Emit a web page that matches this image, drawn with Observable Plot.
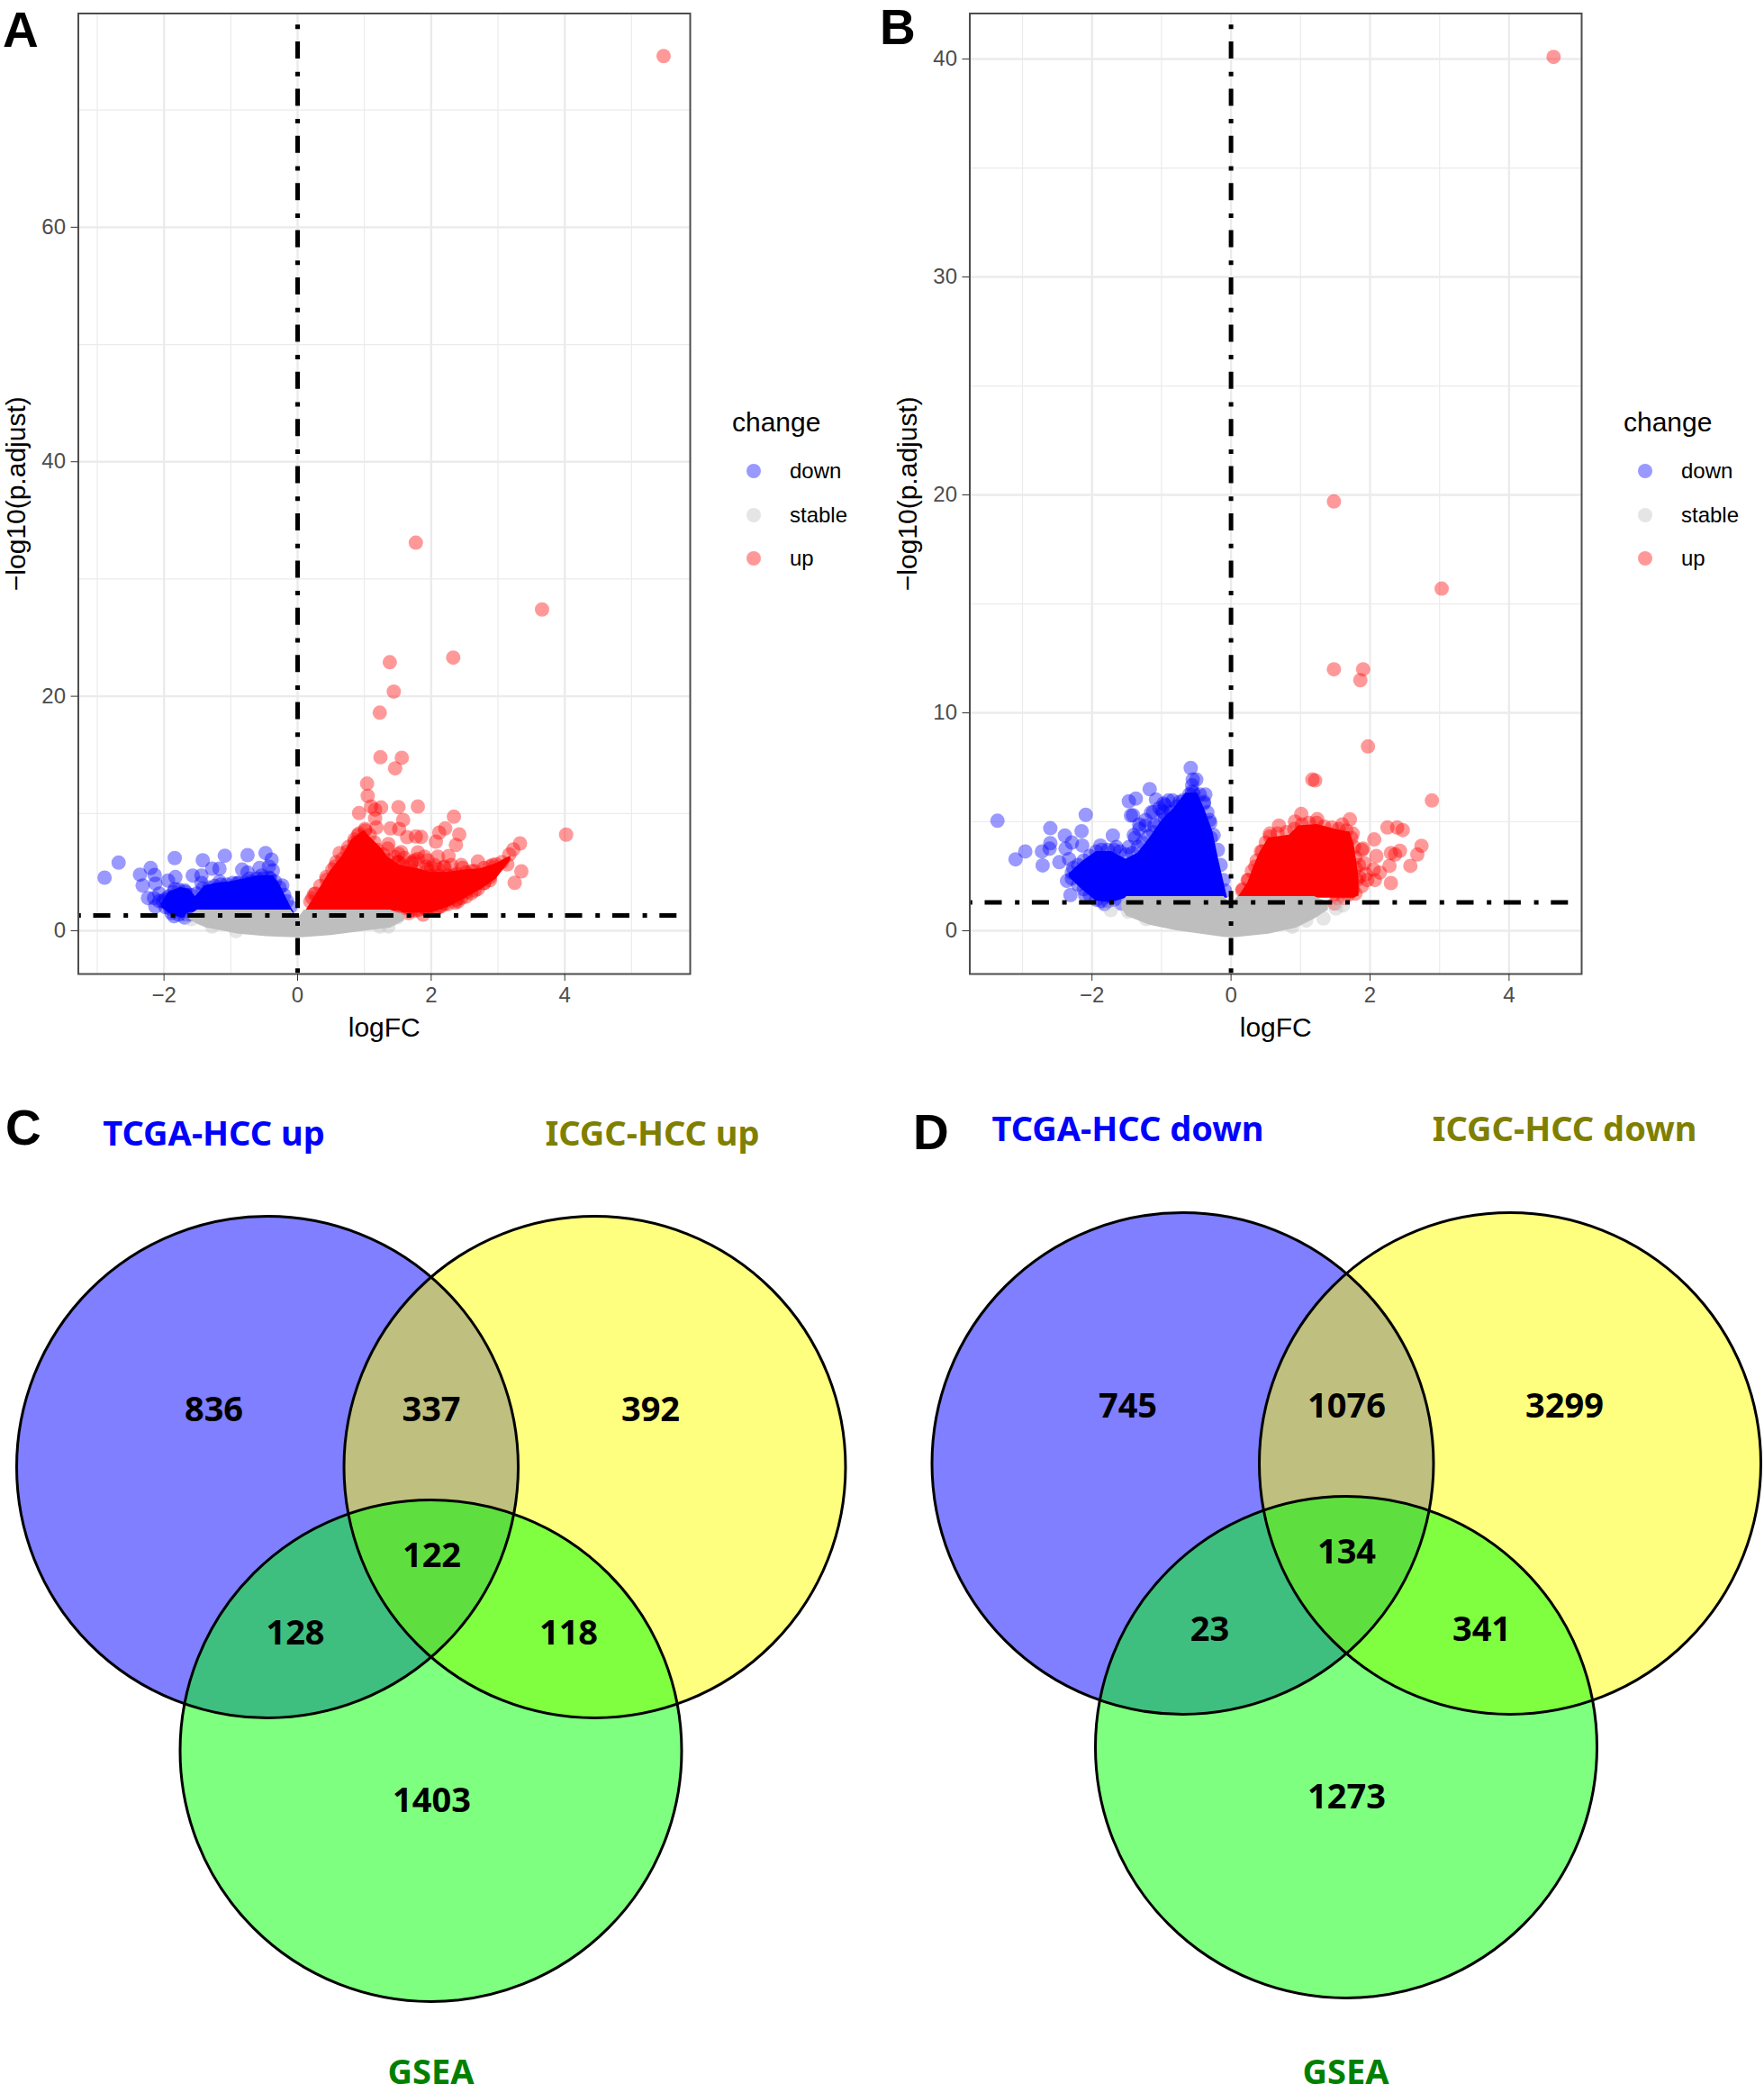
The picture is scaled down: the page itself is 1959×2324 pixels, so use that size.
<!DOCTYPE html>
<html><head><meta charset="utf-8">
<script src="https://cdn.jsdelivr.net/npm/d3@7"></script>
<script src="https://cdn.jsdelivr.net/npm/@observablehq/plot@0.6"></script>
<style>
html,body{margin:0;padding:0;background:#fff}
#page{position:relative;width:1959px;height:2324px;overflow:hidden;background:#fff;font-family:"Liberation Sans",Arial,sans-serif}
#page svg{position:absolute;background:transparent;overflow:visible}
.tag{position:absolute;font:700 55px/1 "Liberation Sans",Arial,sans-serif;color:#000}
.lg{position:absolute;color:#000;line-height:1;white-space:nowrap}
.lgd{position:absolute;width:16px;height:16px;border-radius:50%}
</style></head><body><div id="page"></div>
<script>
// ---------- Panel A values (logFC, -log10 p.adjust) ----------
const aDown=[[-2.89,4.53],[-2.68,5.81],[-2.36,4.79],[-2.20,5.35],[-2.14,4.76],[-2.32,3.86],[-2.13,4.02],[-2.24,2.79],[-2.15,2.79],[-2.13,2.07],[-2.07,3.17],[-1.94,4.28],[-1.83,4.58],[-1.84,6.2],[-1.57,4.71],[-1.44,4.71],[-1.42,6.01],[-1.28,5.3],[-1.17,5.3],[-1.09,6.4],[-0.75,6.45],[-0.48,6.63],[-0.39,6.07],[-0.83,5.22],[-0.75,4.97],[-0.57,5.35],[-0.43,5.48],[-0.37,5.15],[-0.23,3.86],[-1.84,3.56],[-1.98,2.69],[-1.91,1.92],[-1.66,1.38],[-1.85,1.25],[-1.68,3.30],[-1.44,4.07],[-1.17,4.2],[-0.90,4.07],[-0.72,4.45],[-0.54,4.71],[-0.41,4.45],
[-2.02,2.53],[-1.93,2.92],[-1.86,3.3],[-1.78,3.51],[-1.69,3.43],[-1.6,3.05],[-1.51,3.17],[-1.42,3.61],[-1.33,3.69],[-1.24,3.82],[-1.15,3.94],[-1.06,3.94],[-.97,4.07],[-.88,4.07],[-.79,4.07],[-.7,4.2],[-.61,4.45],[-.52,4.45],[-.43,4.53],[-.34,4.2],[-.27,3.69],[-.2,3.05],[-.16,2.53],[-.11,2.02],[-1.98,2.02],[-1.89,1.51],[-1.78,1.38],[-1.69,1.13],[-1.6,1.38],[-2.07,2.53]];
const aUp=[[5.48,74.6],[1.77,33.1],[3.66,27.4],[2.33,23.3],[1.38,22.9],[1.44,20.4],[1.23,18.6],[1.24,14.8],[1.56,14.75],[1.46,13.85],[1.04,12.55],[1.05,11.5],[0.92,10.04],[1.10,10.6],[1.16,10.34],[1.25,10.52],[1.51,10.55],[1.80,10.6],[2.34,9.73],[1.16,9.58],[1.58,9.45],[1.18,8.81],[1.39,8.73],[1.52,8.68],[2.21,8.73],[2.12,8.37],[2.42,8.22],[4.02,8.2],[1.64,7.99],[1.77,8.04],[1.85,8.0],[2.07,7.6],[2.37,7.32],[1.36,7.4],[3.33,7.45],[3.23,6.94],[3.17,6.5],[0.63,6.63],[1.51,6.55],[1.80,6.68],[1.90,6.32],[2.10,6.32],[2.26,6.37],[2.70,5.91],[3.35,5.07],[3.25,4.09],[2.97,5.66],[3.14,5.66],[2.88,5.48],[2.47,5.35],[2.61,5.09],[2.19,5.4],[2.00,5.35],[1.90,4.53],[0.27,3.17],[0.19,2.48],[1.88,1.38],[2.12,2.02],[2.36,2.4],[2.70,3.56],[2.88,4.32],[0.85,7.53],[1.01,8.68],[0.90,8.14],[0.25,3.13],[0.43,4.33],[0.56,5.48],[0.74,6.76],[1.50,5.86],[1.70,5.74],[1.94,5.22],[2.34,4.71],[1.94,1.77],[1.70,1.77],[2.30,2.79],[2.52,3.3],[2.79,4.07],
[.22,2.79],[.34,3.82],[.43,4.58],[.52,5.22],[.58,5.86],[.67,6.12],[.76,7.14],[.85,7.78],[.92,8.29],[1.01,8.55],[1.08,8.17],[1.15,7.53],[1.19,6.89],[1.28,6.5],[1.35,5.99],[1.44,5.22],[1.57,4.84],[1.71,5.09],[1.84,4.97],[1.98,4.71],[2.11,4.71],[2.25,4.71],[2.38,4.84],[2.52,4.97],[2.65,5.09],[2.79,5.35],[2.92,5.61],[3.06,5.86],[2.88,4.58],[2.79,4.07],[2.65,3.43],[2.52,2.92],[2.38,2.66],[2.25,2.28],[2.07,1.89],[1.93,1.77],[1.80,1.77],[1.66,1.51],[1.53,1.77],[1.51,5.86],[1.57,5.61],[1.71,5.86],[1.80,6.12],[1.93,5.48],[2.11,5.22],[2.20,5.48],
[1.6,6.2],[1.75,6.0],[1.95,6.0],[2.05,5.6],[2.3,5.6],[1.55,6.7],[2.45,5.6],[2.0,2.0],[2.2,2.3],[2.45,2.8],[2.6,3.2],[1.75,1.7],[1.35,7.0],[1.45,6.3],[2.15,2.1],[2.4,2.5]];
const aStable=[[-1.59,1.0],[-1.28,0.36],[-0.92,-0.03],[1.36,0.36],[1.49,1.13],[1.23,0.36]];
const aDownCoreX=[-2.04,-1.93,-1.75,-1.62,-1.53,-1.39,-1.21,-0.99,-0.77,-0.59,-0.37,-0.28,-0.19,-0.10,-0.05];
const aDownCoreTop=[2.28,3.30,3.69,3.56,2.92,3.82,4.07,4.2,4.45,4.71,4.71,4.07,3.05,2.02,1.53];
const aDownCoreBase=[2.0,1.5,1.1,1.1,1.3,1.5,1.5,1.5,1.5,1.5,1.5,1.5,1.5,1.5,1.5];
const aUpCoreX=[0.13,0.27,0.49,0.67,0.81,0.99,1.12,1.26,1.35,1.53,1.80,1.98,2.25,2.52,2.74,2.97,3.19];
const aUpCoreTop=[1.77,3.05,5.09,6.37,7.78,8.55,7.8,7.0,6.3,5.6,5.3,5.0,5.0,5.2,5.3,5.73,6.37];
const aUpCoreBase=[1.5,1.5,1.5,1.5,1.5,1.5,1.5,1.5,1.5,1.5,1.51,1.51,2.0,2.8,3.5,4.4,5.99];
const aStableCoreX=[-1.62,-1.5,-1.36,-0.88,-0.46,-0.1,0,0.1,0.5,1.05,1.39,1.6];
const aStableCoreTop=[1.3,1.77,1.77,1.77,1.77,1.77,1.0,1.77,1.77,1.77,1.77,1.3];
const aStableCoreBase=[1.0,0.55,0.23,-0.28,-0.49,-0.58,-0.59,-0.58,-0.41,0,0.23,0.87];

// ---------- Panel B values ----------
const bDown=[[-3.36,5.05],[-3.10,3.28],[-2.96,3.64],[-2.72,3.64],[-2.71,3.0],[-2.60,4.71],[-2.60,4.02],[-2.61,3.77],[-2.47,3.15],[-2.39,4.37],[-2.15,4.57],[-2.09,5.32],[-2.31,1.64],[-2.36,2.29],[-2.29,4.05],[-2.14,3.91],[-2.38,3.77],[-2.33,3.29],[-2.29,2.67],[-2.10,1.64],[-1.88,3.91],[-1.70,4.37],[-1.65,3.84],[-1.47,3.84],[-1.38,4.26],[-1.47,5.94],[-1.37,6.07],[-1.17,6.5],[-1.44,5.29],[-1.41,5.3],[-1.15,5.43],[-1.32,4.88],[-1.23,4.83],[-1.10,4.83],[-1.08,6.02],[-0.97,5.84],[-0.90,5.98],[-0.97,5.43],[-0.74,5.91],[-0.58,7.47],[-0.55,6.94],[-0.50,6.94],[-0.56,6.67],[-0.56,6.39],[-0.37,6.25],[-0.39,5.91],[-0.31,5.08],[-0.29,4.26],[-1.82,1.23],[-1.58,1.25],[-2.03,2.05],
[-2.27,2.88],[-2.2,3.02],[-2.12,3.22],[-2.03,3.43],[-1.94,3.64],[-1.86,3.71],[-1.77,3.71],[-1.68,3.71],[-1.6,3.64],[-1.51,3.5],[-1.42,3.57],[-1.34,3.84],[-1.27,4.05],[-1.19,4.33],[-1.12,4.53],[-1.03,4.88],[-.95,5.15],[-.86,5.43],[-.78,5.7],[-.69,5.98],[-.6,6.25],[-.54,6.32],[-.45,6.25],[-.39,5.84],[-.34,5.43],[-.3,4.95],[-.25,4.39],[-.19,3.71],[-.15,3.02],[-.11,2.33],[-.09,1.85],[-2.29,2.4],[-2.2,2.12],[-2.12,1.91],[-2.03,1.64],[-1.94,1.43],[-1.86,1.36],[-1.77,1.36],[-1.68,1.43],
[-1.23,5.08],[-1.12,5.43],[-1.03,5.63],[-.95,5.77],[-.84,5.98],[-.99,5.5],[-1.32,4.67],[-1.40,4.39]];
const bUp=[[4.64,40.1],[1.48,19.7],[3.03,15.7],[1.48,12.0],[1.90,12.0],[1.86,11.5],[1.97,8.46],[2.89,5.98],[1.17,6.94],[1.21,6.90],[1.01,5.36],[0.69,4.83],[0.92,5.01],[1.24,5.12],[1.71,5.11],[1.60,4.88],[2.25,4.74],[2.39,4.74],[2.47,4.62],[2.06,4.19],[2.74,3.90],[2.68,3.50],[2.43,3.67],[2.30,3.57],[2.36,3.5],[2.58,2.98],[2.28,2.98],[2.30,2.19],[2.07,2.33],[2.14,2.67],[2.05,2.81],[2.09,3.43],[1.90,3.77],[1.92,3.09],[1.96,2.33],[1.84,2.47],[1.75,4.46],[0.56,4.46],[0.45,3.64],[0.35,2.95],[0.25,2.33],[0.16,1.85],[1.79,1.71],[1.62,1.5],[1.49,1.25],
[.17,1.91],[.24,2.33],[.3,2.74],[.37,3.22],[.43,3.64],[.5,4.05],[.56,4.33],[.67,4.46],[.8,4.53],[.91,4.67],[1.02,4.88],[1.12,4.95],[1.23,4.95],[1.34,4.78],[1.45,4.74],[1.55,4.67],[1.66,4.6],[1.73,4.26],[1.77,3.84],[1.79,3.36],[1.79,2.88],[1.81,2.33],[1.75,1.91],[1.68,1.64],[1.53,1.5],[1.88,3.71],[1.84,3.02],[1.94,2.6],[1.88,2.05]];
const bStable=[[-1.73,0.95],[-1.48,0.88],[-1.22,0.54],[1.33,0.57],[1.51,1.02],[1.61,1.16],[1.08,0.47],[0.88,0.19]];
const bDownCoreX=[-2.33,-2.15,-1.94,-1.72,-1.51,-1.34,-1.17,-0.99,-0.82,-0.65,-0.48,-0.37,-0.26,-0.18,-0.09,-0.05];
const bDownCoreTop=[2.60,3.15,3.64,3.64,3.29,3.57,4.26,5.08,5.63,6.32,6.32,5.50,4.53,3.29,2.05,1.50];
const bDownCoreBase=[2.47,1.91,1.36,1.29,1.5,1.5,1.5,1.5,1.5,1.5,1.5,1.5,1.5,1.5,1.5,1.5];
const bUpCoreX=[0.11,0.24,0.32,0.41,0.54,0.84,0.97,1.24,1.49,1.71,1.77,1.84];
const bUpCoreTop=[1.57,2.19,2.88,3.57,4.26,4.39,4.81,4.88,4.67,4.53,3.98,2.47];
const bUpCoreBase=[1.5,1.5,1.5,1.5,1.5,1.5,1.5,1.5,1.5,1.5,1.5,1.6];
const bStableCoreX=[-1.57,-1.5,-1.17,-0.78,-0.1,0,0.1,0.54,0.94,1.20,1.40];
const bStableCoreTop=[1.3,1.57,1.57,1.57,1.57,1.2,1.57,1.57,1.57,1.57,1.3];
const bStableCoreBase=[1.02,0.67,0.26,0,-0.3,-0.32,-0.3,-0.15,0.12,0.54,0.95];

const threshold=1.301;
const xMajor=[-2,0,2,4];
const aXMinor=[-3,-1,1,3,5], bXMinor=[-3,-1,1,3];
const aYMajor=[0,20,40,60], aYMinor=[10,30,50,70];
const bYMajor=[0,10,20,30,40], bYMinor=[5,15,25,35];
const legendLabels=["down","stable","up"];
const colDown="#0000ff", colStable="#bebebe", colUp="#ff0000";

// ---------- Venn values ----------
const vennTitlesC=["TCGA-HCC up","ICGC-HCC up","GSEA"];
const vennTitlesD=["TCGA-HCC down","ICGC-HCC down","GSEA"];
const vennFills=["#0000ff","#ffff00","#00ff00"];
const vennTitleColors=["#0000ff","#7f7f00","#008000"];
const vennCx=[296.5,660,478, 1313,1676.5,1494.5];
const vennCy=[1628.5,1628.5,1943.5, 1624.5,1624.5,1939.5];
const vennCounts=[836,337,392,128,122,118,1403, 745,1076,3299,23,134,341,1273];
const vennCountX=[237,478.5,722,327.5,479,631,479, 1252,1495,1737,1343,1495,1645,1495];
const vennCountY=[1565.5,1565.5,1565.5,1813.5,1727.5,1813.5,1999.5, 1561.5,1561.5,1561.5,1809.5,1723.5,1809.5,1995.5];
const vennTitleX=[237,724,478, 1252,1737,1494];
const vennTitleY=[1259,1259,2301, 1254,1254,2301];

const page=document.getElementById("page");
const fmt=d=>d<0?"\u2212"+(-d):String(d);

function volcano(o){
  const dot=(data,fill)=>Plot.dot(data,{x:d=>d[0],y:d=>d[1],r:8,fill,fillOpacity:0.4});
  const core=(x,top,base,fill)=>Plot.areaY(x,{x,y1:base,y2:top,fill});
  const svg=Plot.plot({
    width:960,height:1170,marginLeft:86.5,marginRight:194,marginTop:14.5,marginBottom:89,
    style:{fontFamily:'"Liberation Sans",Arial,sans-serif',background:"transparent"},
    x:{domain:o.xd},y:{domain:o.yd},
    marks:[
      Plot.gridX(o.xMinor,{stroke:"#ebebeb",strokeOpacity:1,strokeWidth:1.2}),
      Plot.gridY(o.yMinor,{stroke:"#ebebeb",strokeOpacity:1,strokeWidth:1.2}),
      Plot.gridX(xMajor,{stroke:"#ebebeb",strokeOpacity:1,strokeWidth:2.4}),
      Plot.gridY(o.yMajor,{stroke:"#ebebeb",strokeOpacity:1,strokeWidth:2.4}),
      core(o.dc[0],o.dc[1],o.dc[2],colDown),
      core(o.uc[0],o.uc[1],o.uc[2],colUp),
      dot(o.down,colDown),dot(o.up,colUp),
      dot(o.stable,colStable),
      core(o.sc[0],o.sc[1],o.sc[2],colStable),
      Plot.ruleY([threshold],{stroke:"#000",strokeWidth:5,strokeDasharray:"5 13.7 19 14.7",strokeDashoffset:1.7}),
      Plot.ruleX([0],{stroke:"#000",strokeWidth:5,strokeDasharray:"5 13.7 19 14.7",strokeDashoffset:39.6}),
      Plot.frame({stroke:"#4d4d4d",strokeWidth:2}),
      Plot.axisX({ticks:xMajor,tickFormat:fmt,tickSize:8,tickPadding:6,fontSize:24,stroke:"#333",fill:"#4d4d4d",label:null}),
      Plot.axisY({ticks:o.yMajor,tickFormat:fmt,tickSize:8,tickPadding:6,fontSize:24,stroke:"#333",fill:"#4d4d4d",label:null}),
      Plot.text(["logFC"],{frameAnchor:"bottom",dy:69,fontSize:30,fill:"#000"}),
      Plot.text(["\u2212log10(p.adjust)"],{frameAnchor:"left",textAnchor:"middle",dx:-69,rotate:-90,fontSize:30,fill:"#000"})
    ]
  });
  svg.style.left=o.left+"px";svg.style.top="0px";
  page.appendChild(svg);
  const add=(cls,css,txt)=>{const e=document.createElement("div");e.className=cls;e.style.cssText=css;if(txt)e.textContent=txt;page.appendChild(e);};
  add("lg",`left:${o.left+813}px;top:453.5px;font-size:30px`,"change");
  const ys=[523,572,620],cols=["#9999ff","#e5e5e5","#ff9999"];
  legendLabels.forEach((t,i)=>{
    add("lgd",`left:${o.left+829}px;top:${ys[i]-8}px;background:${cols[i]}`);
    add("lg",`left:${o.left+877}px;top:${ys[i]-12}px;font-size:24px`,t);
  });
}
volcano({left:0,xd:[-3.283,5.878],yd:[-3.687,78.23],xMinor:aXMinor,yMajor:aYMajor,yMinor:aYMinor,
  down:aDown,up:aUp,stable:aStable,dc:[aDownCoreX,aDownCoreTop,aDownCoreBase],uc:[aUpCoreX,aUpCoreTop,aUpCoreBase],sc:[aStableCoreX,aStableCoreTop,aStableCoreBase]});
volcano({left:990,xd:[-3.758,5.044],yd:[-1.983,42.09],xMinor:bXMinor,yMajor:bYMajor,yMinor:bYMinor,
  down:bDown,up:bUp,stable:bStable,dc:[bDownCoreX,bDownCoreTop,bDownCoreBase],uc:[bUpCoreX,bUpCoreTop,bUpCoreBase],sc:[bStableCoreX,bStableCoreTop,bStableCoreBase]});

const idx=d3.range(vennCx.length);
const venn=Plot.plot({
  width:1959,height:1124,margin:0,
  style:{background:"transparent"},
  x:{domain:[0,1959],axis:null},y:{domain:[2324,1200],axis:null},
  marks:[
    Plot.dot(idx,{x:i=>vennCx[i],y:i=>vennCy[i],r:278.5,fill:i=>vennFills[i%3],fillOpacity:0.5}),
    Plot.dot(idx,{x:i=>vennCx[i],y:i=>vennCy[i],r:278.5,stroke:"#000",strokeWidth:3,fill:"none"}),
    Plot.text(vennCounts,{x:vennCountX,y:vennCountY,text:d=>String(d),fontFamily:'"Noto Sans"',fontWeight:700,fontSize:38,fill:"#000"}),
    Plot.text(vennTitlesC.concat(vennTitlesD),{x:vennTitleX,y:vennTitleY,fontFamily:'"Noto Sans"',fontWeight:700,fontSize:38,
      fill:(d,i)=>vennTitleColors[i%3]})
  ]
});
venn.style.left="0px";venn.style.top="1200px";
page.appendChild(venn);

[["A",3,6],["B",977,3],["C",6,1225],["D",1014,1230]].forEach(([t,l,tp])=>{
  const e=document.createElement("div");e.className="tag";e.textContent=t;
  e.style.left=l+"px";e.style.top=tp+"px";page.appendChild(e);
});
</script></body></html>
